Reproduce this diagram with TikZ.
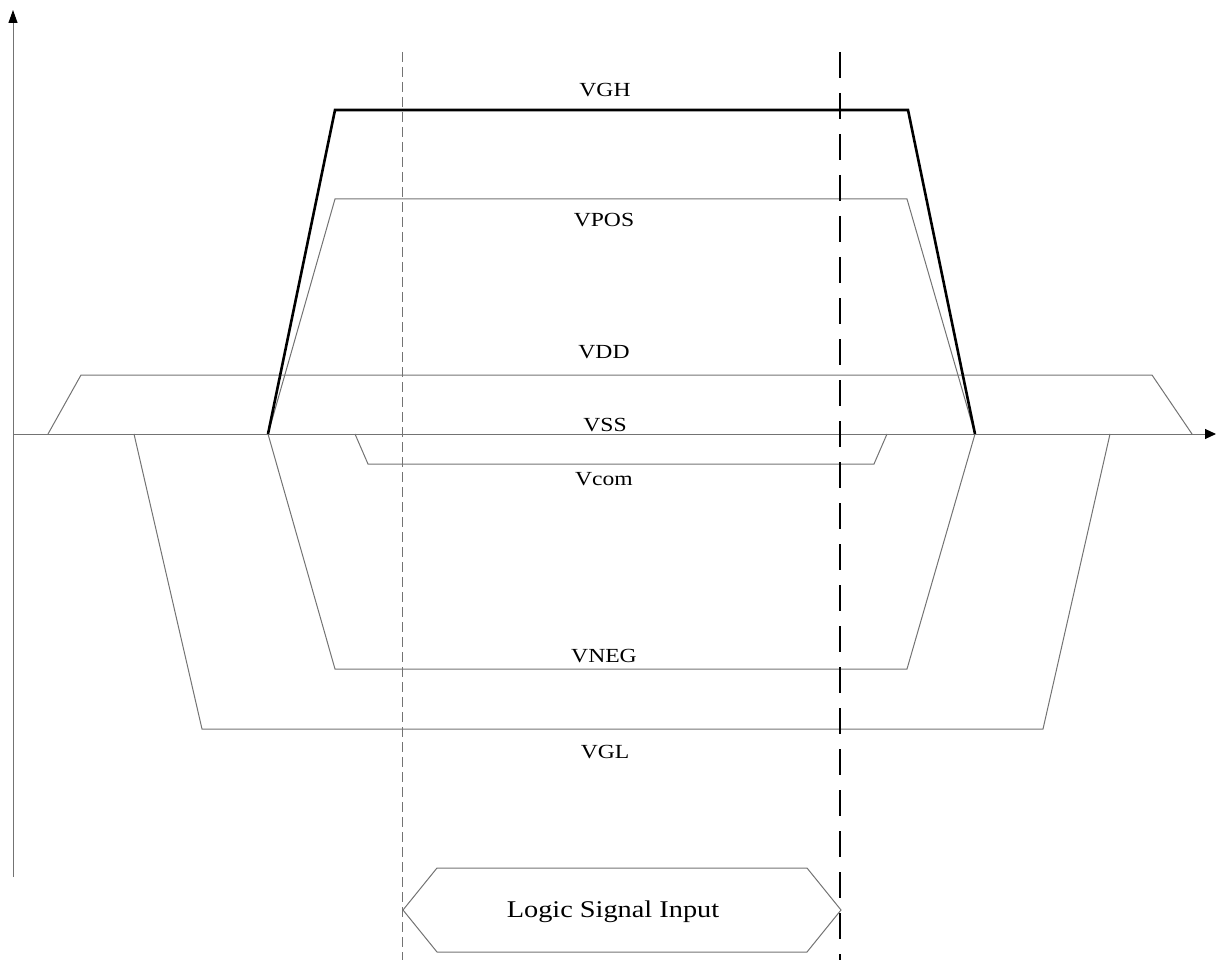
\documentclass[tikz,border=0pt]{standalone}
\usepackage{fontspec}
\setmainfont{Liberation Serif}
\usetikzlibrary{arrows.meta}
\newcommand{\wide}[1]{\scalebox{1.18}[1]{#1}}
\tikzset{
  sig/.style={draw=black!55, line width=1pt, line join=miter},
  sigbold/.style={draw=black, line width=2.6pt, line join=miter},
  axisline/.style={draw=black!55, line width=1pt},
  lbl/.style={font=\fontsize{20}{22}\selectfont, inner sep=0pt, anchor=base},
  thindash/.style={draw=black!55, line width=1pt, dash pattern=on 10pt off 5pt},
  thickdash/.style={draw=black, line width=2pt, dash pattern=on 26pt off 15pt},
}
\begin{document}
\begin{tikzpicture}[x=1pt,y=-1pt]
\useasboundingbox (0,0) rectangle (1216,960);
% axes
\coordinate (o) at (13,434);
\coordinate (ytop) at (13,10);
\coordinate (ybot) at (13,877);
\coordinate (xend) at (1216,434);
\draw[axisline, -{Triangle[length=13pt,width=9pt,color=black]}] (ybot) -- (ytop);
\draw[axisline, -{Triangle[length=11pt,width=10pt,color=black]}] (o) -- (xend);
% VDD
\draw[sig] (48,434) -- (81,375) -- (1152,375) -- (1192,434);
% VGL
\draw[sig] (134,434) -- (202,729) -- (1043,729) -- (1110,434);
% VNEG
\draw[sig] (268,434) -- (335,669) -- (907,669) -- (975,434);
% VPOS
\draw[sig] (268,434) -- (335,199) -- (907,199) -- (975,434);
% Vcom
\draw[sig] (355,434) -- (368,464) -- (874,464) -- (887,434);
% VGH
\draw[sigbold] (268,434) -- (335,110) -- (908,110) -- (975,434);
% dashed markers
\coordinate (d1t) at (402,52);
\coordinate (d1b) at (402,960);
\coordinate (d2t) at (840,52);
\coordinate (d2b) at (840,960);
\draw[thindash] (d1t) -- (d1b);
\draw[thickdash] (d2t) -- (d2b);
% labels
\node[lbl] (vgh) at (605,97) {\wide{VGH}};
\node[lbl] (vpos) at (604,227) {\wide{VPOS}};
\node[lbl] (vdd) at (604,358) {\wide{VDD}};
\node[lbl] (vss) at (605,431) {\wide{VSS}};
\node[lbl] (vcom) at (604,485) {\wide{Vcom}};
\node[lbl] (vneg) at (604,662) {\wide{VNEG}};
\node[lbl] (vgl) at (605,758) {\wide{VGL}};
% logic signal input
\draw[sig] (403,910) -- (437,868) -- (807,868) -- (841,910) -- (807,952) -- (437,952) -- cycle;
\node[lbl, font=\fontsize{24}{26}\selectfont] (lsi) at (613,917) {\wide{Logic Signal Input}};
\end{tikzpicture}
\end{document}
